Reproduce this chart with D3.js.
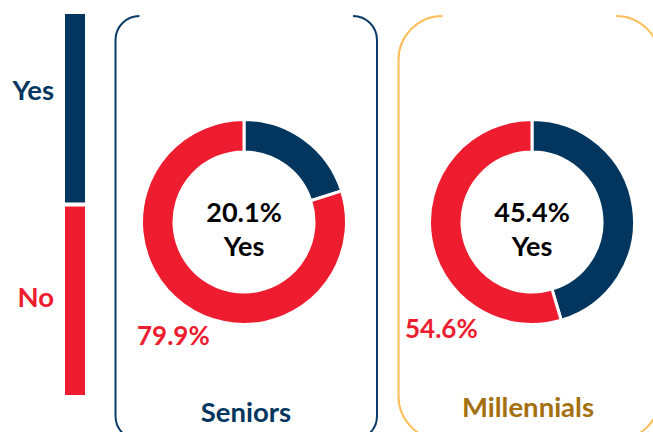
<!DOCTYPE html>
<html>
<head>
<meta charset="utf-8">
<script src="https://cdn.jsdelivr.net/npm/d3@7/dist/d3.min.js"></script>
<style>
  html, body { margin: 0; padding: 0; background: #fff; }
  svg { display: block; }
  text { font-family: Lato, "Open Sans", sans-serif; font-weight: 700; }
</style>
</head>
<body>
<svg id="chart" width="653" height="432"></svg>
<script>
// Survey answers by generation (percent)
const groups = ["Seniors", "Millennials"];
const answers = ["Yes", "No"];
const yesShare = [20.1, 45.4];
const noShare = [79.9, 54.6];

const navy = "#02365F";
const red = "#EE1C2F";
const groupFrame = ["#0A3A66", "#FDBE59"];
const groupTitle = ["#02365F", "#A46F0E"];

const svg = d3.select("#chart");

// ---- legend: stacked vertical bar with labels ----
const legendY = d3.scaleBand().domain(answers).range([14, 395]).paddingInner(0.021);
const answerColor = d3.scaleOrdinal().domain(answers).range([navy, red]);

const legend = svg.append("g");
legend.selectAll("rect").data(answers).join("rect")
  .attr("x", 65).attr("width", 20)
  .attr("y", d => legendY(d))
  .attr("height", legendY.bandwidth())
  .attr("fill", d => answerColor(d));
legend.selectAll("text").data(answers).join("text")
  .attr("x", 54)
  .attr("y", (d, i) => i === 0 ? 100 : 307)
  .attr("text-anchor", "end")
  .attr("font-size", 27.5)
  .attr("fill", d => answerColor(d))
  .text(d => d);

// ---- panels: open-topped rounded frames, donut, labels ----
const panels = [
  { x0: 115.5, x1: 377, top: 16, bottom: 440, r: 24, cx: 244, cy: 222, titleX: 246, titleY: 422, noX: 137, noY: 345 },
  { x0: 398.5, x1: 660, top: 16, bottom: 440, r: 44, cx: 532, cy: 222, titleX: 528, titleY: 417, noX: 405, noY: 338 }
];

const pie = d3.pie().sort(null).value(d => d.v);
const arc = d3.arc().innerRadius(70).outerRadius(102.5);

panels.forEach((p, i) => {
  const g = svg.append("g");

  // frame without the straight top edge
  const path = d3.path();
  path.moveTo(p.x0 + p.r, p.top);
  path.arcTo(p.x0, p.top, p.x0, p.top + p.r, p.r);
  path.lineTo(p.x0, p.bottom - p.r);
  path.arcTo(p.x0, p.bottom, p.x0 + p.r, p.bottom, p.r);
  path.lineTo(p.x1 - p.r, p.bottom);
  path.arcTo(p.x1, p.bottom, p.x1, p.bottom - p.r, p.r);
  path.lineTo(p.x1, p.top + p.r);
  path.arcTo(p.x1, p.top, p.x1 - p.r, p.top, p.r);
  g.append("path")
    .attr("d", path.toString())
    .attr("fill", "none")
    .attr("stroke", groupFrame[i])
    .attr("stroke-width", 2);

  const slices = pie([
    { k: "Yes", v: yesShare[i] },
    { k: "No", v: noShare[i] }
  ]);
  const donut = g.append("g").attr("transform", `translate(${p.cx},${p.cy})`);
  donut.selectAll("path").data(slices).join("path")
    .attr("d", arc)
    .attr("fill", d => answerColor(d.data.k))
    .attr("stroke", "#fff")
    .attr("stroke-width", 3);

  donut.append("text")
    .attr("text-anchor", "middle").attr("y", 0)
    .attr("font-size", 27).attr("fill", "#000")
    .text(d3.format(".1f")(yesShare[i]) + "%");
  donut.append("text")
    .attr("text-anchor", "middle").attr("y", 34)
    .attr("font-size", 27).attr("fill", "#000")
    .text("Yes");

  g.append("text")
    .attr("x", p.noX).attr("y", p.noY)
    .attr("font-size", 26).attr("fill", red)
    .text(d3.format(".1f")(noShare[i]) + "%");

  g.append("text")
    .attr("x", p.titleX).attr("y", p.titleY)
    .attr("text-anchor", "middle")
    .attr("font-size", 27.5).attr("fill", groupTitle[i])
    .text(groups[i]);
});
</script>
</body>
</html>
